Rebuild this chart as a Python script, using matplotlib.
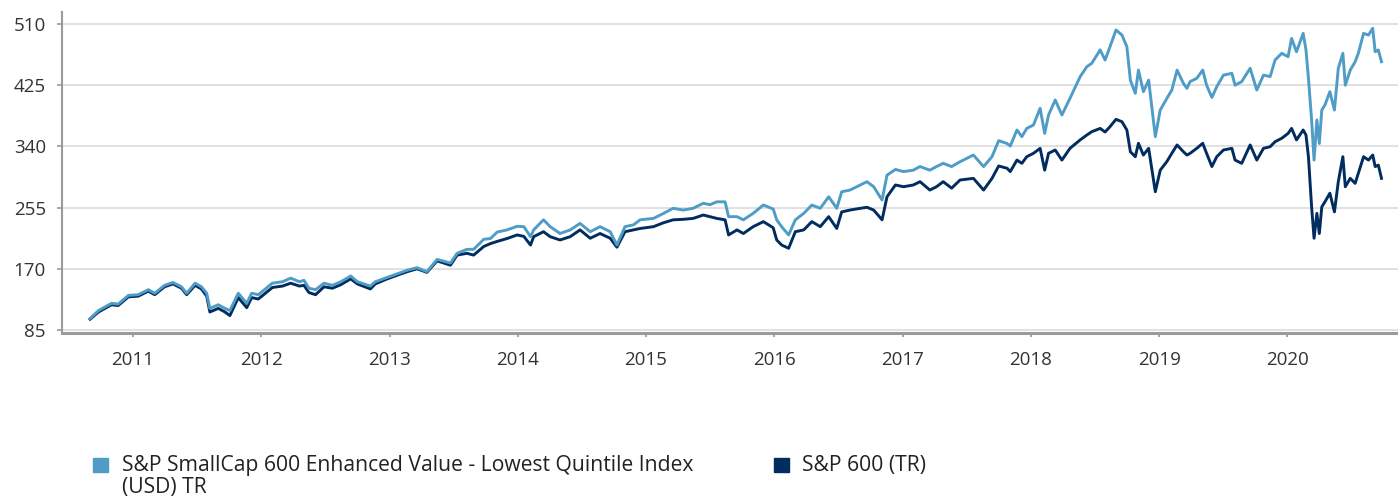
import matplotlib
matplotlib.use("Agg")
import matplotlib.pyplot as plt
from matplotlib.patches import Rectangle
import pandas as pd

# ---------------- data ----------------
dates = [
    "2010-09-01", "2010-09-25", "2010-11-01", "2010-11-20", "2010-12-19",
    "2011-01-16", "2011-02-14", "2011-03-04", "2011-04-01", "2011-04-25",
    "2011-05-19", "2011-06-03", "2011-06-27", "2011-07-15", "2011-07-30",
    "2011-08-08", "2011-09-01", "2011-09-20", "2011-10-04", "2011-10-28",
    "2011-11-21", "2011-12-05", "2011-12-24", "2012-02-02", "2012-03-02",
    "2012-03-25", "2012-04-19", "2012-05-02", "2012-05-16", "2012-06-04",
    "2012-06-28", "2012-07-22", "2012-08-15", "2012-09-12", "2012-10-01",
    "2012-11-07", "2012-11-21", "2012-12-25", "2013-01-22", "2013-02-20",
    "2013-03-20", "2013-04-17", "2013-05-16", "2013-06-23", "2013-07-12",
    "2013-08-09", "2013-08-28", "2013-09-26", "2013-10-15", "2013-11-03",
    "2013-12-01", "2013-12-30", "2014-01-18", "2014-02-06", "2014-02-15",
    "2014-03-15", "2014-04-03", "2014-05-01", "2014-05-30", "2014-06-27",
    "2014-07-26", "2014-08-23", "2014-09-21", "2014-10-10", "2014-11-02",
    "2014-11-26", "2014-12-15", "2015-01-22", "2015-02-20", "2015-03-19",
    "2015-04-17", "2015-05-15", "2015-06-13", "2015-07-02", "2015-07-21",
    "2015-08-14", "2015-08-24", "2015-09-17", "2015-10-05", "2015-11-02",
    "2015-12-01", "2015-12-29", "2016-01-08", "2016-01-22", "2016-02-11",
    "2016-03-01", "2016-03-25", "2016-04-17", "2016-05-11", "2016-06-04",
    "2016-06-27", "2016-07-11", "2016-08-04", "2016-09-02", "2016-09-21",
    "2016-10-10", "2016-11-03", "2016-11-17", "2016-12-11", "2017-01-03",
    "2017-01-31", "2017-02-19", "2017-03-19", "2017-04-07", "2017-04-26",
    "2017-05-20", "2017-06-13", "2017-07-21", "2017-08-19", "2017-09-12",
    "2017-10-01", "2017-10-25", "2017-11-03", "2017-11-22", "2017-12-06",
    "2017-12-20", "2018-01-08", "2018-01-27", "2018-02-09", "2018-02-20",
    "2018-03-11", "2018-03-30", "2018-04-22", "2018-05-21", "2018-06-09",
    "2018-06-23", "2018-07-17", "2018-07-31", "2018-08-14", "2018-08-31",
    "2018-09-17", "2018-10-01", "2018-10-11", "2018-10-25", "2018-11-03",
    "2018-11-17", "2018-12-02", "2018-12-21", "2019-01-04", "2019-01-23",
    "2019-02-06", "2019-02-21", "2019-03-11", "2019-03-21", "2019-03-30",
    "2019-04-18", "2019-05-05", "2019-05-16", "2019-05-31", "2019-06-14",
    "2019-07-03", "2019-07-27", "2019-08-05", "2019-08-24", "2019-09-17",
    "2019-10-06", "2019-10-25", "2019-11-13", "2019-11-27", "2019-12-16",
    "2020-01-03", "2020-01-13", "2020-01-27", "2020-02-15", "2020-02-23",
    "2020-03-01", "2020-03-10", "2020-03-17", "2020-03-25", "2020-04-01",
    "2020-04-08", "2020-04-17", "2020-05-01", "2020-05-14", "2020-05-25",
    "2020-06-07", "2020-06-14", "2020-06-28", "2020-07-12", "2020-07-21",
    "2020-08-05", "2020-08-19", "2020-08-31", "2020-09-07", "2020-09-16",
    "2020-09-25",
]

enhanced_value_lq = [
    101, 112, 122, 121, 133,
    134, 141, 136, 147, 151,
    145, 136, 150, 145, 136,
    115, 120, 115, 112, 136,
    122, 136, 134, 150, 152,
    157, 152, 154, 143, 141,
    150, 147, 152, 160, 152,
    146, 152, 158, 163, 168,
    171.5, 166, 183, 178, 191.5,
    197, 197, 211, 212, 221,
    224, 229, 228.5, 214.6, 224,
    238, 228.5, 219, 224, 233,
    221.5, 228.5, 221.5, 203, 228.5,
    231, 238, 240, 247, 254,
    251.6, 254, 261, 259, 263,
    263, 242.4, 242.4, 238, 247,
    258.6, 253, 238, 228.5, 217,
    238, 247, 258.6, 254, 270,
    254, 277, 279.4, 286.4, 291,
    284, 265.5, 300, 308, 305,
    307, 312, 307, 312, 316.5,
    312, 318.7, 328, 312, 325.7,
    348, 344, 340.5, 362.8, 353.5,
    365, 369.7, 393, 358, 383.6,
    404.5, 383.6, 406.8, 436.8, 450.7,
    455.4, 474, 460, 478.5, 501.7,
    494.7, 478.5, 432, 413.7, 446,
    416, 432, 353.5, 390.5, 406.8,
    418.3, 446, 427.6, 420.6, 430,
    434.6, 446, 425, 408, 423,
    439, 441.5, 425, 430, 448.5,
    418.3, 439, 437, 460, 469.3,
    464.6, 490, 471.5, 497, 474,
    434.6, 376.7, 321, 376.7, 344,
    390.5, 397.5, 416, 390.5, 448.5,
    469.3, 425, 446, 457.6, 469.3,
    497, 494.7, 504, 471.5, 474,
    457.6,
]

sp600_tr = [
    100, 110, 120, 119, 131,
    132, 139, 134, 145, 149,
    143, 134, 147, 142, 132,
    110, 115, 110, 105, 130,
    116, 130, 128, 144, 146,
    150, 146, 147, 137, 134,
    145, 143, 148, 156, 149,
    142, 149, 156, 161, 166,
    170, 165, 181, 175, 189,
    191.5, 189, 201, 205, 208,
    212, 217, 215, 203, 214.6,
    221.5, 214.6, 210, 214.6, 224,
    212.4, 219, 212.4, 200, 221.5,
    224, 226, 228.5, 234, 238,
    238.7, 240, 244.7, 242.4, 240,
    238, 217, 224, 219, 228.5,
    235.5, 227, 210, 203, 198.5,
    221.5, 224, 235.5, 228.5, 242.4,
    226, 249, 251.6, 254, 255.4,
    251.6, 238, 270, 286.4, 284,
    286.4, 291, 279.4, 284, 291,
    282, 293.3, 295.6, 279.4, 295.6,
    312.8, 309.6, 305, 321, 316.5,
    325.7, 330.4, 337.3, 307, 330.4,
    335, 321, 337.3, 349, 355.8,
    360.4, 365, 360, 367.4, 377.6,
    374.3, 362.8, 332.6, 325.7, 344.3,
    328, 337.3, 277, 307, 319,
    330.4, 342, 332.6, 328, 330.4,
    337.3, 344.3, 330.4, 312, 325.7,
    335, 337.3, 321, 316.5, 342,
    321, 337.3, 339.6, 346.5, 351.3,
    358, 365, 349, 362.8, 355.8,
    325.7, 256, 212.4, 247, 219,
    256, 263, 275, 249, 291,
    325.7, 284, 295.6, 288.7, 302.6,
    325.7, 321, 328, 312, 314,
    295.6,
]

series_labels = [
    "S&P SmallCap 600 Enhanced Value - Lowest Quintile Index\n(USD) TR",
    "S&P 600 (TR)",
]
series_colors = ["#4f9cc7", "#002c5f"]
y_ticks = [85, 170, 255, 340, 425, 510]
x_tick_years = list(range(2011, 2021))

# ---------------- plot ----------------
plt.rcParams["font.family"] = ["Open Sans", "DejaVu Sans"]

W, H = 1398, 500
fig = plt.figure(figsize=(W / 100, H / 100), dpi=100)
ax = fig.add_axes([62 / W, (H - 333) / H, 1 - 62 / W, (333 - 12.5) / H])

x = pd.to_datetime(dates)
ax.plot(x, sp600_tr, color=series_colors[1], lw=2.1, zorder=3,
        solid_joinstyle="round")
ax.plot(x, enhanced_value_lq, color=series_colors[0], lw=2.1, zorder=4,
        solid_joinstyle="round")

ax.set_ylim(80.8, 526)
ax.set_xlim(pd.Timestamp("2010-06-13"), pd.Timestamp("2020-11-11"))

ax.set_yticks(y_ticks)
ax.set_yticklabels([str(v) for v in y_ticks])
ax.set_xticks([pd.Timestamp(f"{y}-01-01") for y in x_tick_years])
ax.set_xticklabels([str(y) for y in x_tick_years])

ax.yaxis.grid(True, color="#dedede", lw=1.3, zorder=0)
ax.xaxis.grid(False)
ax.set_axisbelow(True)

for s in ("top", "right"):
    ax.spines[s].set_visible(False)
ax.spines["left"].set_color("#9a9a9a")
ax.spines["left"].set_linewidth(1.5)
ax.spines["bottom"].set_color("#9a9a9a")
ax.spines["bottom"].set_linewidth(2.2)

ax.tick_params(axis="y", length=3.6, width=1.2, color="#9a9a9a",
               labelsize=13.5, labelcolor="#333333", pad=8)
ax.tick_params(axis="x", length=3.2, width=1.2, color="#9a9a9a",
               labelsize=13.5, labelcolor="#333333", pad=9.5)

# ---------------- legend ----------------
legend_items = [(93, 122), (774, 802)]
for (sx, tx), lab, col in zip(legend_items, series_labels, series_colors):
    fig.patches.append(Rectangle((sx / W, (H - 472) / H), 15 / W, 14 / H,
                                 transform=fig.transFigure, color=col,
                                 figure=fig))
    fig.text(tx / W, (H - 455.5) / H, lab, ha="left", va="top",
             fontsize=15.2, color="#222222", linespacing=1.05)

fig.savefig("out.png", dpi=100)
